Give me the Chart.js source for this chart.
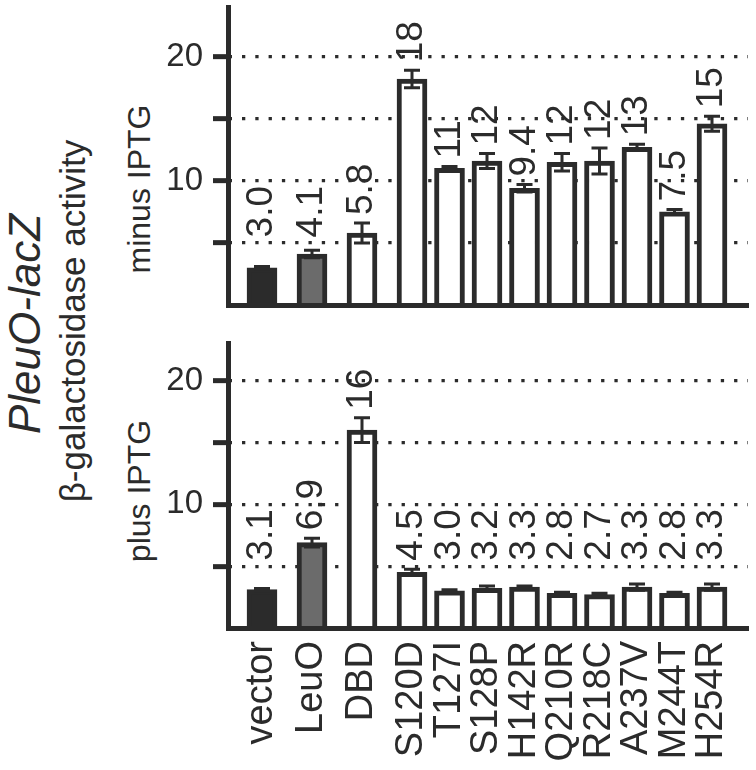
<!DOCTYPE html>
<html lang="en">
<head>
<meta charset="UTF-8" />
<title>PleuO-lacZ</title>
<script src="https://cdn.jsdelivr.net/npm/chart.js@4.4.1/dist/chart.umd.min.js"></script>
<style>
  html, body { margin: 0; padding: 0; background: #fff; }
  body { width: 756px; height: 770px; position: relative; overflow: hidden;
         font-family: "Liberation Sans", Arial, sans-serif; color: #2b2b2b; }
  canvas { position: absolute; left: 0; }
  .side { position: absolute; white-space: nowrap; line-height: 1;
          transform: translate(-50%, -50%) rotate(-90deg); }
</style>
</head>
<body>
<div class="side" style="left:25px; top:324px; font-size:44px; font-style:italic;">PleuO-lacZ</div>
<div class="side" style="left:72px; top:321px; font-size:35px;">β-galactosidase activity</div>
<div class="side" style="left:139px; top:189px; font-size:32px;">minus IPTG</div>
<div class="side" style="left:139px; top:491px; font-size:32px;">plus IPTG</div>
<canvas id="top" width="756" height="320" style="top:0"></canvas>
<canvas id="bottom" width="756" height="440" style="top:330px"></canvas>
<script>
const categories = ['vector', 'LeuO', 'DBD', 'S120D', 'T127I', 'S128P', 'H142R', 'Q210R', 'R218C', 'A237V', 'M244T', 'H254R'];
const minusIPTG = [3.0, 4.1, 5.8, 18.2, 11.0, 11.6, 9.4, 11.5, 11.6, 12.7, 7.5, 14.6];
const minusErr = [0.1, 0.3, 0.8, 0.7, 0.15, 0.6, 0.3, 0.7, 1.05, 0.25, 0.2, 0.6];
const plusIPTG = [3.1, 6.9, 16.0, 4.5, 3.0, 3.2, 3.3, 2.8, 2.7, 3.3, 2.8, 3.3];
const plusErr = [0.1, 0.35, 1.0, 0.25, 0.1, 0.2, 0.1, 0.1, 0.1, 0.25, 0.1, 0.25];
const yTicks = [5, 10, 15, 20];
const yLabelled = [10, 20];

const ink = '#2b2b2b';
const family = '"Liberation Sans", Arial, sans-serif';
// first four bars sit wider apart than the mutant group
const slot = i => (i < 4 ? i * 4 : 12 + (i - 3) * 3);
const fills = categories.map((c, i) => (i === 0 ? ink : i === 1 ? '#6b6b6b' : '#ffffff'));

// error bars + rotated value labels
function makeOverlay(values, errors) {
  return {
    id: 'overlay',
    afterDatasetsDraw(chart) {
      const { ctx } = chart;
      const y = chart.scales.y;
      const bars = chart.getDatasetMeta(0).data;
      ctx.save();
      ctx.strokeStyle = ink;
      ctx.lineWidth = 3;
      bars.forEach((bar, i) => {
        const y1 = y.getPixelForValue(values[i] - errors[i]);
        const y2 = y.getPixelForValue(values[i] + errors[i]);
        ctx.beginPath();
        ctx.moveTo(bar.x, y1); ctx.lineTo(bar.x, y2);
        ctx.moveTo(bar.x - 8, y1); ctx.lineTo(bar.x + 8, y1);
        ctx.moveTo(bar.x - 8, y2); ctx.lineTo(bar.x + 8, y2);
        ctx.stroke();
      });
      ctx.fillStyle = ink;
      ctx.font = '37px ' + family;
      ctx.textAlign = 'left';
      ctx.textBaseline = 'middle';
      bars.forEach((bar, i) => {
        const top = Math.max(values[i] + errors[i], 4.8);
        ctx.save();
        ctx.translate(bar.x, y.getPixelForValue(top) - 8);
        ctx.rotate(-Math.PI / 2);
        ctx.fillText(values[i].toPrecision(2), 0, 0);
        ctx.restore();
      });
      ctx.restore();
    }
  };
}

function makeChart(id, values, errors, yMax, padTop, xHeight, showLabels) {
  return new Chart(document.getElementById(id), {
    type: 'bar',
    data: {
      datasets: [{
        data: values.map((v, i) => ({ x: slot(i), y: v })),
        backgroundColor: fills,
        borderColor: ink,
        borderWidth: 5,
        borderSkipped: 'bottom',
        barThickness: 30
      }]
    },
    options: {
      responsive: false,
      animation: false,
      layout: { padding: { top: padTop, right: 8, left: 0, bottom: 0 } },
      plugins: { legend: { display: false }, tooltip: { enabled: false } },
      scales: {
        x: {
          type: 'linear',
          min: -2.72,
          max: 38.88,
          offset: false,
          grid: { display: false, drawTicks: false },
          border: { display: true, color: ink, width: 5, z: 1 },
          afterBuildTicks: s => { s.ticks = categories.map((c, i) => ({ value: slot(i) })); },
          afterFit: s => { s.height = xHeight; s.paddingLeft = 0; s.paddingRight = 0; },
          ticks: {
            display: showLabels,
            autoSkip: false,
            minRotation: 90,
            maxRotation: 90,
            padding: 13,
            color: ink,
            font: { family, size: 38 },
            callback: (v, i) => categories[i]
          }
        },
        y: {
          min: 0,
          max: yMax,
          afterBuildTicks: s => { s.ticks = yTicks.map(v => ({ value: v })); },
          afterFit: s => { s.width = 228; s.paddingTop = 0; s.paddingBottom = 0; },
          grid: { color: ink, lineWidth: 3.3, tickLength: 15, tickWidth: 5, tickColor: ink, tickBorderDash: [] },
          border: { display: true, color: ink, width: 5, dash: [3.3, 10], dashOffset: 2.3, z: 1 },
          ticks: {
            padding: 10,
            color: ink,
            font: { family, size: 33 },
            callback: v => (yLabelled.includes(v) ? String(v) : '')
          }
        }
      }
    },
    plugins: [makeOverlay(values, errors)]
  });
}

makeChart('top', minusIPTG, minusErr, 24, 7, 15, false);
makeChart('bottom', plusIPTG, plusErr, 23, 13.5, 142, true);
</script>
</body>
</html>
